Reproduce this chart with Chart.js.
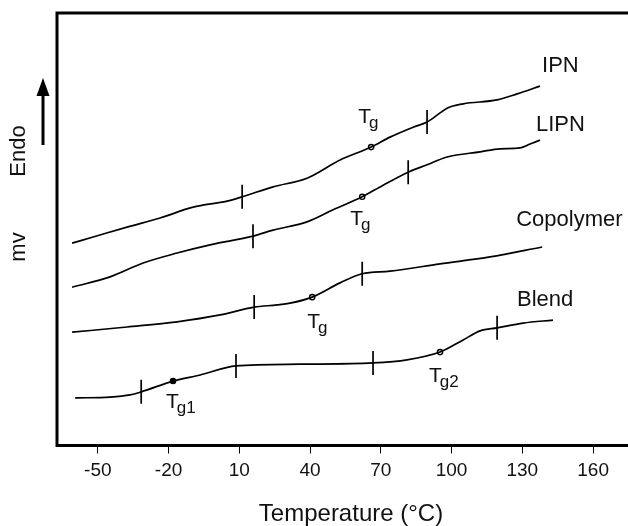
<!DOCTYPE html>
<html>
<head>
<meta charset="utf-8">
<script src="https://cdn.jsdelivr.net/npm/chart.js@4.4.1/dist/chart.umd.min.js"></script>
<style>
  html, body { margin: 0; padding: 0; background: #fff; overflow: hidden; }
  canvas { display: block; }
</style>
</head>
<body>
<canvas id="dsc" width="628" height="526"></canvas>
<script>
// DSC thermograms: heat flow (mV, curves offset for clarity) vs temperature
const tempTicks = [-50, -20, 10, 40, 70, 100, 130, 160];

const seriesNames = ["IPN", "LIPN", "Copolymer", "Blend"];

const ipnTemp = [-60.9, -52.0, -37.6, -23.6, -9.6, 4.8, 11.2, 24.3, 38.7, 52.7, 65.9, 73.9, 83.7, 89.6, 95.1, 98.1, 104.9, 119.3, 127.8, 137.5];
const ipnMv   = [4.68, 4.82, 5.05, 5.26, 5.51, 5.65, 5.75, 5.98, 6.18, 6.60, 6.90, 7.13, 7.36, 7.48, 7.69, 7.80, 7.90, 7.99, 8.13, 8.31];

const lipnTemp = [-60.9, -44.8, -30.8, -16.4, -2.4, 15.8, 24.3, 38.7, 49.8, 62.1, 71.0, 81.6, 89.6, 98.1, 112.1, 120.6, 129.1, 133.3, 137.5];
const lipnMv   = [3.66, 3.90, 4.22, 4.45, 4.64, 4.84, 4.98, 5.17, 5.45, 5.75, 6.02, 6.32, 6.49, 6.67, 6.79, 6.86, 6.88, 6.97, 7.06];

const copoTemp = [-60.9, -37.6, -16.4, 1.9, 16.3, 26.0, 31.5, 40.9, 52.7, 62.1, 73.9, 95.1, 116.3, 138.4];
const copoMv   = [2.62, 2.74, 2.86, 3.02, 3.20, 3.25, 3.29, 3.43, 3.76, 3.97, 4.03, 4.20, 4.36, 4.59];

const blendTemp = [-59.6, -44.8, -36.3, -31.6, -18.1, -6.6, 8.6, 35.8, 66.7, 81.1, 95.1, 104.9, 112.1, 119.3, 130.3, 143.0];
const blendMv   = [1.10, 1.12, 1.17, 1.24, 1.49, 1.63, 1.84, 1.88, 1.91, 1.98, 2.16, 2.44, 2.65, 2.72, 2.83, 2.90];

// onset / endset marks of each transition
const markTemp = [11.2, 89.6, 15.8, 81.6, 16.3, 62.1, -31.6, 8.6, 66.7, 119.3];
const markMv   = [5.75, 7.48, 4.84, 6.32, 3.20, 3.97, 1.24, 1.84, 1.91, 2.72];

// glass transition points
const tgTemp = [65.9, 62.1, 40.9, -18.1, 95.1];
const tgMv   = [6.90, 5.75, 3.43, 1.49, 2.16];
const tgSub  = ["g", "g", "g", "g1", "g2"];

// label placement (px offsets from the point they belong to)
const tgLabelOffset = [[-13, -24], [-12, 28], [-5, 31], [-7, 27], [-11, 30]];
const nameOffset = [[2, -20], [-4, -15], [-26, -27], [-36, -20]];

const FONT = "'Liberation Sans', Arial, sans-serif";

function curve(temp, mv) {
  return {
    type: "line",
    data: temp.map((t, i) => ({ x: t, y: mv[i] })),
    borderColor: "#000",
    borderWidth: 1.7,
    pointRadius: 0,
    cubicInterpolationMode: "monotone",
    fill: false
  };
}

const curves = [
  curve(ipnTemp, ipnMv),
  curve(lipnTemp, lipnMv),
  curve(copoTemp, copoMv),
  curve(blendTemp, blendMv)
];

const decorations = {
  id: "decorations",
  afterDatasetsDraw(chart) {
    const { ctx, chartArea: a, scales: { x, y } } = chart;
    ctx.save();

    // frame: left, top, bottom (right side runs out of the picture)
    ctx.strokeStyle = "#000";
    ctx.lineWidth = 3;
    ctx.beginPath();
    ctx.moveTo(chart.width, a.top);
    ctx.lineTo(a.left, a.top);
    ctx.lineTo(a.left, a.bottom);
    ctx.lineTo(chart.width, a.bottom);
    ctx.stroke();

    // x axis title, centred on the full (cropped) frame
    ctx.fillStyle = "#111";
    ctx.font = "24px " + FONT;
    ctx.textAlign = "center";
    ctx.textBaseline = "middle";
    ctx.fillText("Temperature (°C)", a.left + 294, chart.height - 12);

    // y axis: "Endo" with arrow, "mv"
    ctx.font = "22px " + FONT;
    [["Endo", 151], ["mv", 247]].forEach(([txt, cy]) => {
      ctx.save();
      ctx.translate(a.left - 38, cy);
      ctx.rotate(-Math.PI / 2);
      ctx.fillText(txt, 0, 0);
      ctx.restore();
    });
    const ax = a.left - 14;
    ctx.lineWidth = 3;
    ctx.beginPath();
    ctx.moveTo(ax, 145);
    ctx.lineTo(ax, 92);
    ctx.stroke();
    ctx.fillStyle = "#000";
    ctx.beginPath();
    ctx.moveTo(ax, 78);
    ctx.lineTo(ax - 6.5, 96);
    ctx.lineTo(ax + 6.5, 96);
    ctx.closePath();
    ctx.fill();

    // series names near the curve ends
    ctx.fillStyle = "#111";
    ctx.font = "22px " + FONT;
    ctx.textAlign = "left";
    ctx.textBaseline = "middle";
    curves.forEach((ds, i) => {
      const last = ds.data[ds.data.length - 1];
      ctx.fillText(seriesNames[i],
        x.getPixelForValue(last.x) + nameOffset[i][0],
        y.getPixelForValue(last.y) + nameOffset[i][1]);
    });

    // Tg labels
    ctx.textBaseline = "alphabetic";
    tgTemp.forEach((t, i) => {
      const px = x.getPixelForValue(t) + tgLabelOffset[i][0];
      const py = y.getPixelForValue(tgMv[i]) + tgLabelOffset[i][1];
      ctx.font = "21px " + FONT;
      ctx.fillText("T", px, py);
      const w = ctx.measureText("T").width;
      ctx.font = "17px " + FONT;
      ctx.fillText(tgSub[i], px + w - 2, py + 5);
    });

    ctx.restore();
  }
};

new Chart(document.getElementById("dsc"), {
  data: {
    datasets: [
      ...curves,
      {
        type: "scatter",
        data: markTemp.map((t, i) => ({ x: t, y: markMv[i] })),
        pointStyle: "line",
        rotation: 90,
        pointRadius: 12,
        borderColor: "#000",
        borderWidth: 1.7
      },
      {
        type: "scatter",
        data: tgTemp.map((t, i) => ({ x: t, y: tgMv[i] })),
        pointStyle: "circle",
        pointRadius: 2.6,
        borderColor: "#000",
        borderWidth: 1.4,
        backgroundColor: ["#fff", "#fff", "#fff", "#000", "#fff"]
      }
    ]
  },
  options: {
    responsive: false,
    animation: false,
    events: [],
    layout: { autoPadding: false, padding: { left: 57, top: 13, right: 0, bottom: 0 } },
    plugins: {
      legend: { display: false },
      tooltip: { enabled: false }
    },
    scales: {
      x: {
        type: "linear",
        min: -67.3,
        max: 174.8,
        afterBuildTicks: s => { s.ticks = tempTicks.map(v => ({ value: v })); },
        afterFit: s => { s.height = 80.5; s.paddingLeft = 0; s.paddingRight = 0; },
        ticks: {
          callback: v => String(v),
          font: { family: FONT, size: 19 },
          color: "#111",
          padding: 6,
          maxRotation: 0,
          autoSkip: false
        },
        grid: {
          display: true,
          drawOnChartArea: false,
          drawTicks: true,
          tickLength: 8,
          color: "#000",
          lineWidth: 1
        },
        border: { display: false }
      },
      y: {
        display: false,
        min: 0,
        max: 10
      }
    }
  },
  plugins: [decorations]
});
</script>
</body>
</html>
